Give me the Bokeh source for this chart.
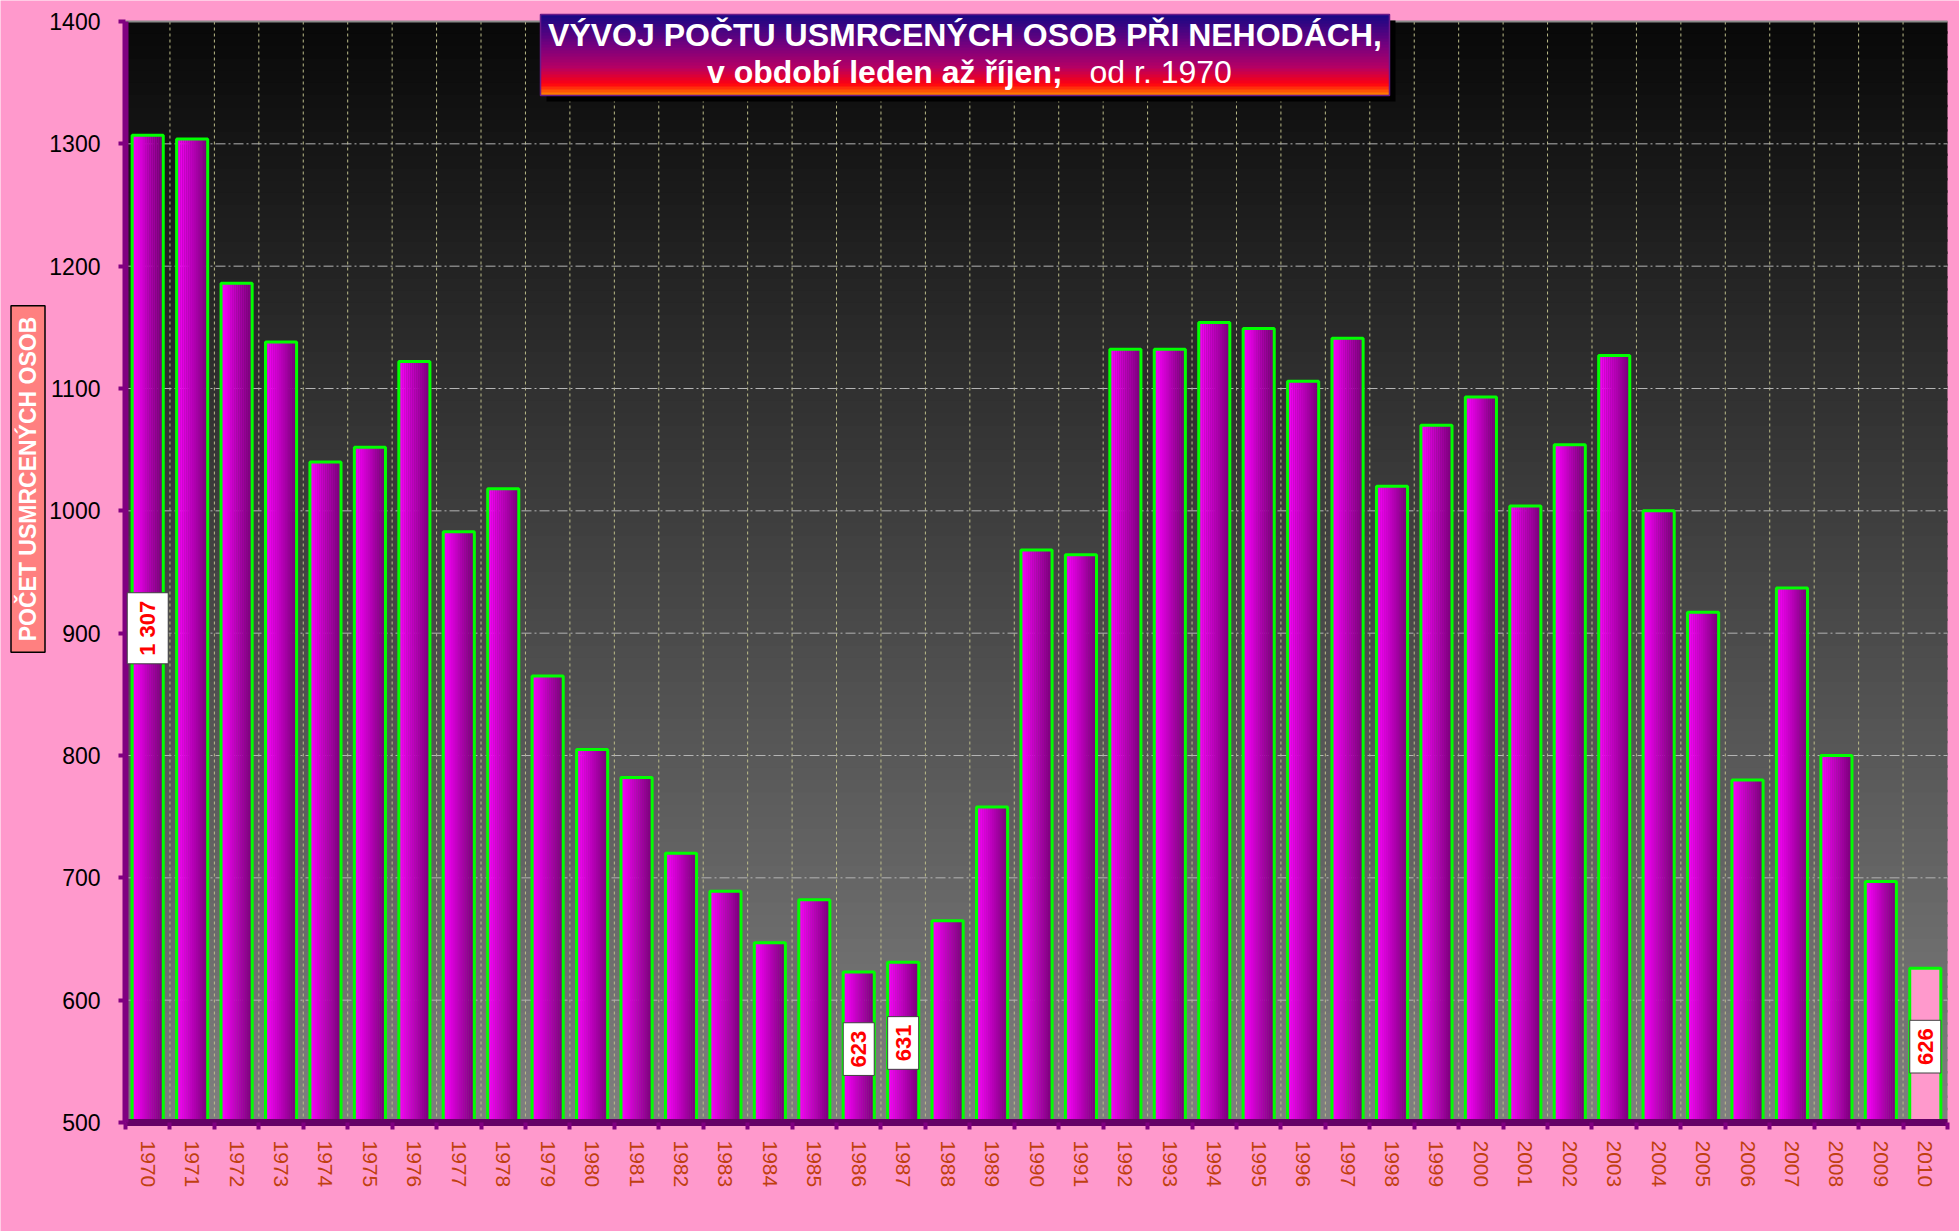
import numpy as np
from math import pi
from bokeh.plotting import figure
from bokeh.models import FixedTicker, Label, BoxAnnotation, Range1d
from bokeh.embed import file_html
from bokeh.resources import INLINE

# ---------------- data ----------------
years = [str(y) for y in range(1970, 2011)]
deaths = [1307, 1304, 1186, 1138, 1040, 1052, 1122, 983, 1018, 865,
          805, 782, 720, 689, 647, 682, 623, 631, 665, 758,
          968, 964, 1132, 1132, 1154, 1149, 1106, 1141, 1020, 1070,
          1093, 1004, 1054, 1127, 1000, 917, 780, 937, 800, 697,
          626]
y_ticks = [500, 600, 700, 800, 900, 1000, 1100, 1200, 1300, 1400]
labeled_years = ["1970", "1986", "1987", "2010"]
highlight_year = "2010"
title_line1 = "VÝVOJ POČTU USMRCENÝCH OSOB PŘI NEHODÁCH,"
title_line2_bold = "v období  leden až říjen;"
title_line2_normal = "od r. 1970"
y_title = "POČET USMRCENÝCH OSOB"

# ---------------- style / positions ----------------
label_y_pos = {"1970": 904, "1986": 560, "1987": 565, "2010": 562}
W, H = 1959, 1231
PINK = "#FF99CC"
SANS = "Liberation Sans"
PA_L, PA_R, PA_T, PA_B = 125, 1947, 21, 1122   # plot area (canvas px)


def lerp(c1, c2, t):
    return tuple(int(round(a + (b - a) * t)) for a, b in zip(c1, c2))


def hexc(c):
    return "#%02x%02x%02x" % c


def fmt(v):
    return f"{v:,}".replace(",", " ")


n = len(years)
ymin, ymax = y_ticks[0], y_ticks[-1]
ppu_y = (PA_B - PA_T) / (ymax - ymin)
ppu_x = (PA_R - PA_L) / n
x_lo, x_hi = -PA_L / ppu_x, n + (W - PA_R) / ppu_x
y_lo, y_hi = ymin - (H - PA_B) / ppu_y, ymax + PA_T / ppu_y


def sy(canvas_y):
    # screen-unit y (from frame bottom = canvas bottom)
    return H - canvas_y


p = figure(width=W, height=H, x_range=Range1d(x_lo, x_hi), y_range=Range1d(y_lo, y_hi),
           output_backend="svg", toolbar_location=None,
           min_border_left=0, min_border_right=0, min_border_top=0, min_border_bottom=0)
p.border_fill_color = PINK
p.background_fill_color = PINK
p.outline_line_color = None
p.xgrid.visible = False
p.ygrid.visible = False

# plot-area vertical gradient (black top -> grey bottom)
nb = 90
edges = np.linspace(ymin, ymax, nb + 1)
bg_tops = np.minimum(edges[1:] + 2, ymax)
bg_cols = [hexc(lerp((128, 128, 128), (8, 8, 8), (i + 0.5) / nb)) for i in range(nb)]
p.quad(left=0, right=n, bottom=edges[:-1], top=bg_tops, fill_color=bg_cols,
       line_color=None, level="image")

# grid: dotted verticals at category boundaries, dash-dot horizontals
bnd = list(range(1, n))
p.segment(x0=bnd, y0=ymin, x1=bnd, y1=ymax, line_color="#BDBD8A", line_dash="3 3",
          line_width=1, level="underlay")
hg = y_ticks[1:-1]
p.segment(x0=0, y0=hg, x1=n, y1=hg, line_color="#B4B4B4", line_dash="10 3 2 3",
          line_width=1, level="underlay")
p.segment(x0=0, y0=ymax, x1=n, y1=ymax, line_color="#8a8a8a", line_width=2, level="underlay")

# bars with horizontal gradient
centers = np.arange(n) + 0.5
bw = 0.7
NS = 16
xs, tops, cols = [], [], []
for k in range(NS):
    t = (k + 0.5) / NS
    col = hexc(lerp((255, 0, 255), (118, 0, 118), t))
    for i in range(n):
        if years[i] != highlight_year:
            xs.append(centers[i] - bw / 2 + (k + 0.5) * bw / NS)
            tops.append(deaths[i])
            cols.append(col)
p.vbar(x=xs, top=tops, bottom=ymin, width=bw / NS * 1.15, fill_color=cols, line_color=None)
hi = years.index(highlight_year)
p.vbar(x=[centers[hi]], top=[deaths[hi]], bottom=ymin, width=bw, fill_color=PINK, line_color=None)
p.vbar(x=centers, top=deaths, bottom=ymin, width=bw, fill_color=None,
       line_color="#00FF00", line_width=3)

# x axis placed at y = 500 inside the frame
p.xaxis.fixed_location = ymin
p.xaxis.ticker = FixedTicker(ticks=list(centers), minor_ticks=list(range(0, n + 1)))
p.xaxis.bounds = (0, n)
p.xaxis.major_label_overrides = {float(c): y for c, y in zip(centers, years)}
p.xaxis.major_label_orientation = "vertical"
p.xaxis.major_tick_out = 0
p.xaxis.major_tick_in = 0
p.xaxis.minor_tick_out = 7
p.xaxis.minor_tick_in = 0
p.xaxis.minor_tick_line_width = 4
p.xaxis.minor_tick_line_color = "#800080"
p.xaxis.axis_line_color = "#660066"
p.xaxis.axis_line_width = 7
p.xaxis.major_label_text_font = SANS
p.xaxis.major_label_text_font_size = "21px"
p.xaxis.major_label_text_color = "#BF4010"
p.xaxis.major_label_standoff = 11

# y axis placed at x = 0 inside the frame
p.yaxis.fixed_location = 0
p.yaxis.ticker = FixedTicker(ticks=y_ticks)
p.yaxis.bounds = (ymin, ymax)
p.yaxis.major_tick_out = 7
p.yaxis.major_tick_in = 0
p.yaxis.minor_tick_out = 0
p.yaxis.minor_tick_in = 0
p.yaxis.major_tick_line_width = 4
p.yaxis.major_tick_line_color = "#800080"
p.yaxis.axis_line_color = "#800080"
p.yaxis.axis_line_width = 6
p.yaxis.major_label_text_font = SANS
p.yaxis.major_label_text_font_size = "23px"
p.yaxis.major_label_text_color = "black"
p.yaxis.major_label_standoff = 18

# y-axis title box with shadow (screen units)
for dx, dy, ta, bg in [(5, 5, 0.0, "black"), (0, 0, 1.0, "#FF8080")]:
    p.add_layout(Label(x=27.5 + dx, y=sy(478.5) + dy, x_units="screen", y_units="screen",
                       text=y_title, angle=pi / 2, text_align="center", text_baseline="middle",
                       text_font=SANS, text_font_style="bold", text_font_size="23px",
                       text_color="white", text_alpha=ta,
                       background_fill_color=bg, border_line_color="black",
                       border_line_width=1.5, padding=(11, 4)))

# data labels
for yr in labeled_years:
    i = years.index(yr)
    p.add_layout(Label(x=centers[i], y=label_y_pos[yr], text=fmt(deaths[i]), angle=pi / 2,
                       text_align="center", text_baseline="middle",
                       text_font=SANS, text_font_style="bold", text_font_size="22px",
                       text_color="#FF0000", background_fill_color="white",
                       border_line_color="#404040", border_line_width=1, padding=(8, 8)))

# chart title box (gradient)
tl, tr = 540, 1389
ttp, tbm = sy(14), sy(95)
scr = dict(left_units="screen", right_units="screen", bottom_units="screen", top_units="screen")
p.add_layout(BoxAnnotation(left=tl + 6, right=tr + 6, bottom=tbm - 6, top=ttp - 6,
                           fill_color="black", fill_alpha=1.0, line_color=None, **scr))
stops = [(0.0, (22, 8, 132)), (0.4, (122, 0, 126)), (0.65, (180, 0, 100)),
         (0.86, (255, 0, 16)), (1.0, (255, 140, 0))]


def grad(t):
    for (t0, c0), (t1, c1) in zip(stops[:-1], stops[1:]):
        if t <= t1:
            return lerp(c0, c1, (t - t0) / (t1 - t0))
    return stops[-1][1]


ns = 27
hgt = (ttp - tbm) / ns
for k in range(ns):
    t = (k + 0.5) / ns
    top = ttp - k * hgt
    p.add_layout(BoxAnnotation(left=tl, right=tr, bottom=top - hgt - 0.6, top=top,
                               fill_color=hexc(grad(t)), fill_alpha=1.0, line_color=None, **scr))
p.add_layout(BoxAnnotation(left=tl, right=tr, bottom=tbm, top=ttp, fill_alpha=0.0,
                           line_color="#6a1a8a", line_alpha=1.0, line_width=1.5, **scr))

tcx = (tl + tr) / 2
p.add_layout(Label(x=tcx, y=sy(34), x_units="screen", y_units="screen", text=title_line1,
                   text_align="center", text_baseline="middle", text_color="white",
                   text_font=SANS, text_font_style="bold", text_font_size="32px"))
p.add_layout(Label(x=1071, y=sy(71), x_units="screen", y_units="screen",
                   text=title_line2_bold, text_align="right", text_baseline="middle",
                   text_color="white", text_font=SANS, text_font_style="bold",
                   text_font_size="32px"))
p.add_layout(Label(x=1089, y=sy(71), x_units="screen", y_units="screen",
                   text=title_line2_normal, text_align="left", text_baseline="middle",
                   text_color="white", text_font=SANS, text_font_style="normal",
                   text_font_size="32px"))

open("out.html", "w").write(file_html(p, INLINE))
